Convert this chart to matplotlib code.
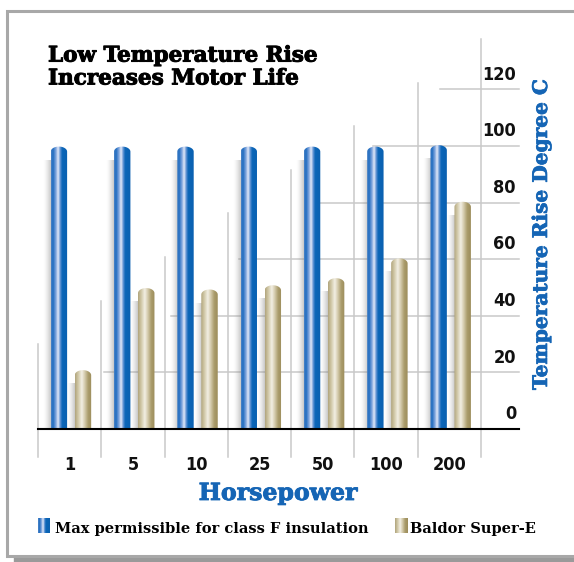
import matplotlib
matplotlib.use("Agg")
import matplotlib.pyplot as plt
import matplotlib.patheffects as pe
import numpy as np
from matplotlib.colors import LinearSegmentedColormap
from matplotlib.patches import PathPatch, Rectangle
from matplotlib.path import Path

# data
horsepower = ["1", "5", "10", "25", "50", "100", "200"]
max_class_f = [98, 98, 98, 98, 98, 98, 98.5]
baldor_super_e = [19, 48, 47.5, 49, 51.5, 58.5, 78.5]
y_ticks = [0, 20, 40, 60, 80, 100, 120]

W, H = 574, 562
fig = plt.figure(figsize=(W / 100, H / 100), dpi=100)
fig.patch.set_facecolor("white")


def fx(px):
    return px / W


def fy(py):
    return 1 - py / H


# frame with drop shadow
fig.patches.append(Rectangle((fx(14), fy(562)), fx(600), fy(556) - fy(562),
                             transform=fig.transFigure, color="#9a9a9a", zorder=-3))
fig.patches.append(Rectangle((fx(7), fy(556)), fx(600), fy(11) - fy(556),
                             transform=fig.transFigure, facecolor="white",
                             edgecolor="#a8a8a8", lw=2.2, zorder=-2))

ax = fig.add_axes([0, 0, 1, 1])
ax.set_axis_off()
ax.patch.set_alpha(0)

# pixel -> data mapping: boundary 0 at px 38, 63.29 px per category, 0 at py 429, 2.83 px per unit
step = 63.29
ppu = 2.83
xmin = -0.5 - 38 / step
xmax = -0.5 + (W - 38) / step
ymin = (429 - H) / ppu
ymax = 429 / ppu

n = len(horsepower)
xs = np.arange(n)
x_right = -0.5 + (519 - 38) / step

# back-wall grid (staircase perspective)
for k in range(n + 1):
    top = 30 + 15.4 * k
    ax.plot([k - 0.5, k - 0.5], [-10, top], color="#c9c9c9", lw=1.1, zorder=1)
for k, v in enumerate(y_ticks[1:], start=1):
    start = k - 0.5 + 0.047 + (k - 1) * 0.062
    ax.plot([start, x_right], [v, v], color="#c9c9c9", lw=1.1, zorder=1)
ax.plot([-0.5, x_right], [0, 0], color="black", lw=1.5, zorder=5)

blue_cmap = LinearSegmentedColormap.from_list("blue", [
    (0.0, "#4f86c8"), (0.12, "#1f6cc0"), (0.3, "#86a9de"), (0.42, "#e4ebf9"),
    (0.55, "#5d90d2"), (0.66, "#0b66b8"), (1.0, "#0a60b0")])
tan_cmap = LinearSegmentedColormap.from_list("tan", [
    (0.0, "#b0a47c"), (0.18, "#cfc6a4"), (0.4, "#f2efe4"), (0.56, "#d8cfb2"),
    (0.78, "#aa9c6c"), (1.0, "#9c8c5a")])

grad = np.linspace(0, 1, 256).reshape(1, -1)
bw = 0.26
cap = 1.8


def cylinder(xc, h, cmap):
    x0, x1 = xc - bw / 2, xc + bw / 2
    # soft shadow on the left
    sh = np.zeros((1, 64, 4))
    sh[..., :3] = 0.5
    sh[..., 3] = np.linspace(0, 0.6, 64) ** 1.6
    ax.imshow(sh, extent=(x0 - 0.12, x0, 0, h - 3.0), aspect="auto",
              interpolation="bilinear", zorder=2)
    t = np.linspace(0, np.pi, 40)
    top = np.column_stack([xc + bw / 2 * np.cos(t), h + cap * np.sin(t)])
    verts = np.vstack([[x0, 0], [x1, 0], top, [x0, 0]])
    codes = [Path.MOVETO] + [Path.LINETO] * (len(verts) - 2) + [Path.CLOSEPOLY]
    patch = PathPatch(Path(verts, codes), transform=ax.transData,
                      facecolor="none", edgecolor="none")
    ax.add_patch(patch)
    im = ax.imshow(grad, extent=(x0, x1, 0, h + cap), cmap=cmap, aspect="auto",
                   interpolation="bilinear", zorder=3)
    im.set_clip_path(patch)


for i in range(n):
    cylinder(xs[i] - 0.17, max_class_f[i], blue_cmap)
    cylinder(xs[i] + 0.21, baldor_super_e[i], tan_cmap)

ax.set_xlim(xmin, xmax)
ax.set_ylim(ymin, ymax)

tick_kw = dict(fontsize=13, family="DejaVu Sans", fontstretch="condensed",
               fontweight="bold", color="#111111")
for i, lab in enumerate(horsepower):
    ax.text(xs[i], -12.7, lab, ha="center", va="center", **tick_kw)
for v in y_ticks:
    ax.text(-0.5 + (516 - 38) / step, v + 5.2, str(v), ha="right", va="center",
            **tick_kw)

blue_text = "#1565b5"
fig.text(fx(48), fy(67), "Low Temperature Rise\nIncreases Motor Life", ha="left",
         va="center", fontsize=15.5, family="DejaVu Serif", fontweight="heavy",
         linespacing=1.05, color="black",
         path_effects=[pe.withStroke(linewidth=0.7, foreground="black")])
fig.text(fx(278), fy(493), "Horsepower", ha="center", va="center", fontsize=17,
         family="DejaVu Serif", fontweight="bold", color=blue_text,
         path_effects=[pe.withStroke(linewidth=0.6, foreground=blue_text)])
fig.text(fx(541), fy(234), "Temperature Rise Degree C", ha="center", va="center",
         rotation=90, fontsize=14.5, family="DejaVu Serif", fontweight="bold",
         color=blue_text,
         path_effects=[pe.withStroke(linewidth=0.5, foreground=blue_text)])

# legend
lg = np.linspace(0, 1, 64).reshape(1, -1)
for px0, cmap in [(38, blue_cmap), (395, tan_cmap)]:
    lax = fig.add_axes([fx(px0), fy(533), fx(12), fy(518) - fy(533)])
    lax.imshow(lg, cmap=cmap, aspect="auto")
    lax.set_axis_off()
fig.text(fx(55), fy(529), "Max permissible for class F insulation", ha="left",
         va="center", fontsize=10.5, family="DejaVu Serif", fontweight="bold")
fig.text(fx(410), fy(529), "Baldor Super-E", ha="left", va="center", fontsize=10.5,
         family="DejaVu Serif", fontweight="bold")

fig.savefig("out.png", dpi=100)
